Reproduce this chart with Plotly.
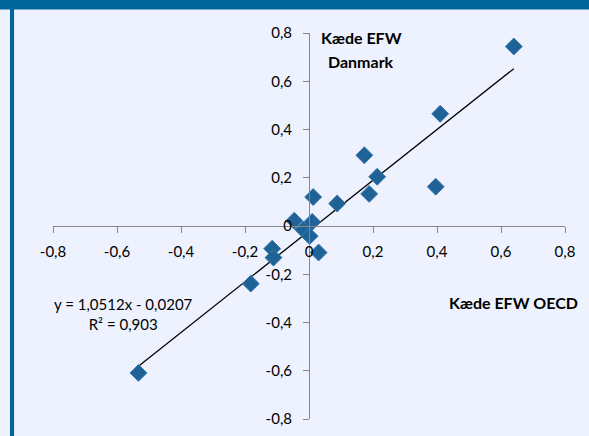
import plotly.graph_objects as go

# Data
efw_oecd = [0.640, 0.410, 0.396, 0.173, 0.213, 0.188, 0.088, 0.013, -0.046,
            0.010, -0.018, 0.002, 0.030, -0.115, -0.111, -0.182, -0.533]
efw_dk = [0.744, 0.465, 0.163, 0.293, 0.204, 0.133, 0.093, 0.120, 0.022,
          0.017, -0.015, -0.042, -0.110, -0.094, -0.131, -0.239, -0.609]

slope = 1.0512
intercept = -0.0207
r2 = 0.903

tick_vals = [-0.8, -0.6, -0.4, -0.2, 0.0, 0.2, 0.4, 0.6, 0.8]
tick_text = ["-0,8", "-0,6", "-0,4", "-0,2", "0", "0,2", "0,4", "0,6", "0,8"]

x_title = "Kæde EFW OECD"
y_title_lines = ["Kæde EFW", "Danmark"]

FONT = "Lato, 'Liberation Sans', sans-serif"
BG = "#EEF2FE"
BLUE = "#00669A"
AXIS = "#878787"

xmin, xmax = min(efw_oecd), max(efw_oecd)
trend_x = [xmin, xmax]
trend_y = [slope * v + intercept for v in trend_x]

fig = go.Figure()
fig.add_trace(go.Scatter(x=trend_x, y=trend_y, mode="lines",
                         line=dict(color="black", width=1.3),
                         hoverinfo="skip", showlegend=False))
fig.add_trace(go.Scatter(x=efw_oecd, y=efw_dk, mode="markers",
                         marker=dict(symbol="diamond", size=13, color="#1F6396",
                                     line=dict(color="#3B78AE", width=1)),
                         showlegend=False))

axis_common = dict(range=[-0.8, 0.8], tickvals=tick_vals, ticktext=tick_text,
                   showgrid=False, zeroline=False, showline=True,
                   linecolor=AXIS, linewidth=1, ticks="outside", ticklen=6,
                   tickcolor=AXIS, tickwidth=1, anchor="free", position=0.5,
                   tickfont=dict(family=FONT, size=15, color="black"))

fig.update_layout(
    width=589, height=436,
    margin=dict(l=53, r=24, t=33, b=9),
    paper_bgcolor=BG, plot_bgcolor=BG,
    xaxis=dict(**axis_common, ticklabelstandoff=6),
    yaxis=dict(**axis_common, ticklabelstandoff=8),
    font=dict(family=FONT, size=15, color="black"),
    shapes=[
        dict(type="rect", xref="paper", yref="paper", x0=-0.2, x1=1.2,
             y0=1.061, y1=1.2, fillcolor=BLUE, line=dict(width=0), layer="above"),
        dict(type="rect", xref="paper", yref="paper", x0=-0.084, x1=-0.076,
             y0=-0.1, y1=1.07, fillcolor=BLUE, line=dict(width=0), layer="above"),
    ],
    annotations=[
        dict(x=0.6016, y=1.0178, xref="paper", yref="paper",
             text="<b>" + y_title_lines[0] + "</b>",
             showarrow=False, font=dict(family=FONT, size=16)),
        dict(x=0.6016, y=0.957, xref="paper", yref="paper",
             text="<b>" + y_title_lines[1] + "</b>",
             showarrow=False, font=dict(family=FONT, size=16)),
        dict(x=0.6375, y=-0.319, xref="x", yref="y", text="<b>" + x_title + "</b>",
             showarrow=False, font=dict(family=FONT, size=16)),
        dict(x=-0.581, y=-0.366, xref="x", yref="y",
             text=("y = " + f"{slope:.4f}".replace(".", ",") + "x - "
                   + f"{abs(intercept):.4f}".replace(".", ",")
                   + "<br>R² = " + f"{r2:.3f}".replace(".", ",")),
             showarrow=False, font=dict(family=FONT, size=15), align="center"),
    ],
)

fig.write_html("out.html", config={"displayModeBar": False},
               post_script="document.body.style.margin='0';document.body.style.padding='0';")
